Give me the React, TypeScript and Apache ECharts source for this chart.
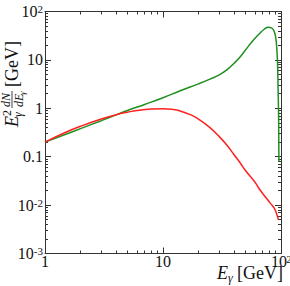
import React, { useEffect, useRef } from "react";
import * as echarts from "echarts";

// Energies (GeV) and spectra E^2 dN/dE (GeV)
const greenE = [1, 1.5, 2, 3, 4, 5, 7, 10, 14, 20, 25, 30, 35, 40, 45, 50, 57, 65, 72, 78, 83, 87, 90, 92, 93.5, 94.5, 95.5, 96];
const greenV = [0.2, 0.29, 0.38, 0.555, 0.73, 0.9, 1.2, 1.65, 2.3, 3.2, 4.0, 4.9, 6.3, 8.5, 11.5, 16, 24, 34, 43, 47.5, 46, 40, 30, 18, 8, 2.5, 0.6, 0.08];
const redE = [1, 1.5, 2, 3, 4, 5, 6, 8, 10, 12, 14, 17, 20, 25, 30, 35, 40, 45, 50, 60, 66, 75, 81, 88, 92, 95];
const redV = [0.2, 0.32, 0.425, 0.6, 0.735, 0.83, 0.9, 0.965, 0.98, 0.95, 0.88, 0.74, 0.6, 0.4, 0.26, 0.17, 0.11, 0.075, 0.052, 0.03, 0.021, 0.014, 0.011, 0.0085, 0.0065, 0.005];

const xTickValues = [1, 10, 100];
const xTickLabels = ["{b|1}", "{b|10}", "{b|10}{supN|2}"];
const yTickValues = [0.001, 0.01, 0.1, 1, 10, 100];
const yTickLabels = ["{b|10}{sup|-3}", "{b|10}{sup|-2}", "{b|0.1}", "{b|1}", "{b|10}", "{b|10}{sup|2}"];
const minorMultipliers = [2, 3, 4, 5, 6, 7, 8, 9];
const xDecades = [0, 1];
const yDecades = [-3, -2, -1, 0, 1];

const FONT = '"Liberation Serif", "DejaVu Serif", serif';
const AXIS_COLOR = "#333";
const TEXT_COLOR = "#111";

function labelFor(values: number[], labels: string[]) {
  return (v: number) => {
    for (let i = 0; i < values.length; i++) {
      if (Math.abs(Math.log10(v) - Math.log10(values[i])) < 1e-6) return labels[i];
    }
    return "";
  };
}

const minorLog = (decades: number[]) =>
  decades.flatMap((d) => minorMultipliers.map((m) => Math.log10(m) + d));

const rich = {
  b: { fontSize: 16, fontFamily: FONT, color: TEXT_COLOR, lineHeight: 16, verticalAlign: "bottom" },
  sup: { fontSize: 11, fontFamily: FONT, color: TEXT_COLOR, lineHeight: 11, verticalAlign: "top" },
  supN: { fontSize: 11, fontFamily: FONT, color: TEXT_COLOR, lineHeight: 11, verticalAlign: "top", width: 4 },
};

function majorAxis(pos: string, min: number, max: number, labels: boolean, fmt: (v: number) => string, margin: number) {
  return {
    type: "log",
    logBase: 10,
    min,
    max,
    position: pos,
    axisLine: { show: true, onZero: false, lineStyle: { color: AXIS_COLOR, width: 1 } },
    axisTick: { show: true, inside: true, length: 6, lineStyle: { color: AXIS_COLOR, width: 1 } },
    axisLabel: { show: labels, formatter: fmt, margin, rich, showMinLabel: true, showMaxLabel: true, hideOverlap: false },
    splitLine: { show: false },
    minorTick: { show: false },
  };
}

function minorAxis(pos: string, min: number, max: number, ticks: number[]) {
  return {
    type: "value",
    min,
    max,
    position: pos,
    axisLine: { show: false, onZero: false },
    axisTick: { show: true, inside: true, length: 3, customValues: ticks, lineStyle: { color: AXIS_COLOR, width: 1 } },
    axisLabel: { show: false },
    splitLine: { show: false },
  };
}

export default function App() {
  const ref = useRef<HTMLDivElement>(null);
  useEffect(() => {
    if (!ref.current) return;
    const chart = echarts.init(ref.current, null, { renderer: "svg" });
    const xFmt = labelFor(xTickValues, xTickLabels);
    const yFmt = labelFor(yTickValues, yTickLabels);
    const xMinor = minorLog(xDecades);
    const yMinor = minorLog(yDecades);
    chart.setOption({
      animation: false,
      backgroundColor: "#fff",
      grid: { left: 45, right: 9, top: 11.5, bottom: 32.5, containLabel: false, outerBoundsMode: "none" },
      xAxis: [
        majorAxis("bottom", 1, 100, true, xFmt, 0),
        majorAxis("top", 1, 100, false, xFmt, 0),
        minorAxis("bottom", 0, 2, xMinor),
        minorAxis("top", 0, 2, xMinor),
      ],
      yAxis: [
        majorAxis("left", 0.001, 100, true, yFmt, 2),
        majorAxis("right", 0.001, 100, false, yFmt, 2),
        minorAxis("left", -3, 2, yMinor),
        minorAxis("right", -3, 2, yMinor),
      ],
      series: [
        {
          type: "line",
          xAxisIndex: 0,
          yAxisIndex: 0,
          data: greenE.map((e, i) => [e, greenV[i]]),
          showSymbol: false,
          smooth: 0.5,
          lineStyle: { color: "#1f8f1f", width: 1.5 },
        },
        {
          type: "line",
          xAxisIndex: 0,
          yAxisIndex: 0,
          data: redE.map((e, i) => [e, redV[i]]),
          showSymbol: false,
          smooth: 0.5,
          lineStyle: { color: "#ff2020", width: 1.5 },
        },
      ],
      graphic: [
        {
          type: "group",
          x: 12,
          y: 127,
          rotation: Math.PI / 2,
          children: [
            { type: "text", x: 0, y: 0, style: { text: "E", font: `italic 18px ${FONT}`, fill: TEXT_COLOR, align: "left", verticalAlign: "middle" } },
            { type: "text", x: 11, y: -5, style: { text: "2", font: `12px ${FONT}`, fill: TEXT_COLOR, align: "left", verticalAlign: "middle" } },
            { type: "text", x: 10, y: 6, style: { text: "γ", font: `italic 12px ${FONT}`, fill: TEXT_COLOR, align: "left", verticalAlign: "middle" } },
            { type: "text", x: 27, y: -6, style: { text: "dN", font: `italic 12px ${FONT}`, fill: TEXT_COLOR, align: "center", verticalAlign: "middle" } },
            { type: "line", shape: { x1: 19, y1: 0, x2: 36, y2: 0 }, style: { stroke: TEXT_COLOR, lineWidth: 0.8 } },
            { type: "text", x: 20, y: 7, style: { text: "dE", font: `italic 12px ${FONT}`, fill: TEXT_COLOR, align: "left", verticalAlign: "middle" } },
            { type: "text", x: 32, y: 10, style: { text: "γ", font: `italic 9px ${FONT}`, fill: TEXT_COLOR, align: "left", verticalAlign: "middle" } },
            { type: "text", x: 40, y: 0, style: { text: "[GeV]", font: `18px ${FONT}`, fill: TEXT_COLOR, align: "left", verticalAlign: "middle" } },
          ],
        },
        { type: "text", x: 217, y: 273, style: { text: "E", font: `italic 18px ${FONT}`, fill: TEXT_COLOR, align: "left", verticalAlign: "middle" } },
        { type: "text", x: 228, y: 278, style: { text: "γ", font: `italic 12px ${FONT}`, fill: TEXT_COLOR, align: "left", verticalAlign: "middle" } },
        { type: "text", x: 283, y: 273, style: { text: "[GeV]", font: `18px ${FONT}`, fill: TEXT_COLOR, align: "right", verticalAlign: "middle" } },
      ],
    });
    return () => chart.dispose();
  }, []);
  return <div ref={ref} style={{ position: "fixed", left: 0, top: 0, width: 290, height: 286 }} />;
}
